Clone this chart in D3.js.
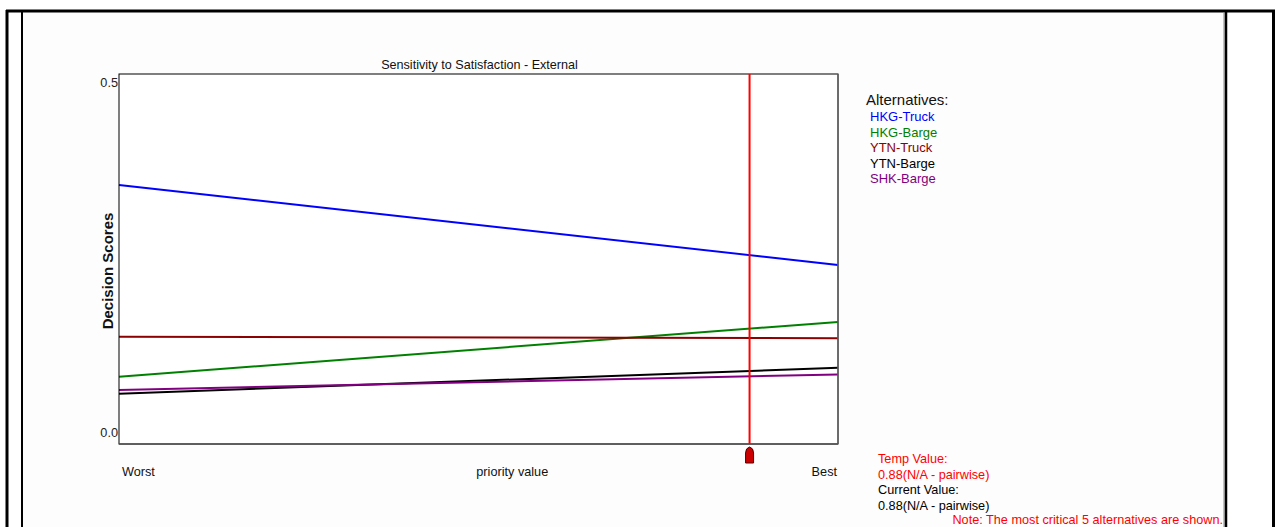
<!DOCTYPE html>
<html><head><meta charset="utf-8">
<script src="https://cdn.jsdelivr.net/npm/d3@7"></script>
<style>
body{margin:0;background:#fff;}
svg{display:block;font-family:"Liberation Sans",Arial,sans-serif;}
</style></head>
<body><svg id="c" width="1275" height="527"></svg>
<script>
const alternatives = ["HKG-Truck","HKG-Barge","YTN-Truck","YTN-Barge","SHK-Barge"];
const colors = ["#0000ff","#008000","#8b0000","#000000","#800080"];
const worstScores = [0.350, 0.091, 0.145, 0.068, 0.073];
const bestScores  = [0.242, 0.165, 0.143, 0.103, 0.094];
const xTickLabels = ["Worst","priority value","Best"];
const yTicks = [0.0, 0.5];
const currentPriority = 0.877;
const title = "Sensitivity to Satisfaction - External";
const yTitle = "Decision Scores";
const legendTitle = "Alternatives:";
const infoLines = ["Temp Value:","0.88(N/A - pairwise)","Current Value:","0.88(N/A - pairwise)"];
const infoColors = ["#ff0000","#ff0000","#000000","#000000"];
const note = "Note: The most critical 5 alternatives are shown.";

const FS = 12.7;
const svg = d3.select("#c");
// outer frames
svg.append("rect").attr("x",22).attr("y",11).attr("width",1203).attr("height",520).attr("fill","#fdfdfd");
svg.append("line").attr("x1",7).attr("x2",7).attr("y1",10).attr("y2",527).attr("stroke","#000").attr("stroke-width",3);
svg.append("line").attr("x1",6).attr("x2",1275).attr("y1",11).attr("y2",11).attr("stroke","#000").attr("stroke-width",3);
svg.append("line").attr("x1",22).attr("x2",22).attr("y1",11).attr("y2",527).attr("stroke","#000").attr("stroke-width",2);
svg.append("line").attr("x1",1224).attr("x2",1224).attr("y1",12).attr("y2",527).attr("stroke","#888").attr("stroke-width",1);
svg.append("line").attr("x1",1226).attr("x2",1226).attr("y1",11).attr("y2",527).attr("stroke","#000").attr("stroke-width",2.5);
svg.append("line").attr("x1",1273.5).attr("x2",1273.5).attr("y1",11).attr("y2",527).attr("stroke","#000").attr("stroke-width",3);

const L=119, R=838, T=74, B=444;
const x = d3.scaleLinear().domain([0,1]).range([L,R]);
const y = d3.scaleLinear().domain([0,0.5]).range([B,T]);

svg.append("rect").attr("x",L).attr("y",T).attr("width",R-L).attr("height",B-T).attr("fill","#fff");

const series = alternatives.map((a,i)=>({name:a,color:colors[i],pts:[[0,worstScores[i]],[1,bestScores[i]]]}));
const line = d3.line().x(d=>x(d[0])).y(d=>y(d[1]));
svg.selectAll("path.s").data(series).join("path").attr("class","s")
  .attr("d",d=>line(d.pts)).attr("fill","none").attr("stroke",d=>d.color).attr("stroke-width",2);

// frame
svg.append("rect").attr("x",L).attr("y",T).attr("width",R-L).attr("height",B-T)
  .attr("fill","none").attr("stroke","#000").attr("stroke-width",1);
svg.append("line").attr("x1",R).attr("x2",R).attr("y1",T).attr("y2",B).attr("stroke","#666").attr("stroke-width",1.5);
svg.append("line").attr("x1",L).attr("x2",R).attr("y1",B).attr("y2",B).attr("stroke","#555").attr("stroke-width",1.5);

// y tick labels
svg.selectAll("text.yt").data(yTicks).join("text").attr("class","yt")
  .attr("x",L-1).attr("y",d=>d===0? y(d)-7 : y(d)+13)
  .attr("text-anchor","end").attr("font-size",FS).attr("fill","#222")
  .text(d=>d3.format(".1f")(d));

// x labels
svg.selectAll("text.xt").data(xTickLabels).join("text").attr("class","xt")
  .attr("x",(d,i)=>i===0? x(0)+3 : (i===2? x(1)-1 : x(0.547)))
  .attr("y",476).attr("font-size",FS).attr("fill","#111")
  .attr("text-anchor",(d,i)=>i===0?"start":(i===2?"end":"middle"))
  .text(d=>d);

// title
svg.append("text").attr("x",(L+R)/2+1).attr("y",69).attr("text-anchor","middle")
  .attr("font-size",12.6).attr("fill","#111").text(title);
// y title
svg.append("text").attr("transform",`translate(113,${(T+B)/2+12}) rotate(-90)`)
  .attr("text-anchor","middle").attr("font-size",15).attr("font-weight","bold").attr("fill","#111").text(yTitle);

// current priority line
const cx = x(currentPriority);
svg.append("line").attr("x1",cx).attr("x2",cx).attr("y1",T).attr("y2",B)
  .attr("stroke","#ff0000").attr("stroke-width",2);
// marker
svg.append("path").attr("d",`M${cx-4},463 L${cx-4},453 Q${cx-4},448 ${cx},447 Q${cx+4},448 ${cx+4},453 L${cx+4},463 Z`)
  .attr("fill","#cc0000").attr("stroke","#550000").attr("stroke-width",1);

// legend
svg.append("text").attr("x",866).attr("y",105).attr("font-size",15).attr("fill","#111").text(legendTitle);
svg.selectAll("text.lg").data(series).join("text").attr("class","lg")
  .attr("x",870).attr("y",(d,i)=>121+i*15.5).attr("font-size",13).attr("fill",d=>d.color).text(d=>d.name);

// info
svg.selectAll("text.info").data(infoLines).join("text").attr("class","info")
  .attr("x",878).attr("y",(d,i)=>463+i*15.5).attr("font-size",FS).attr("fill",(d,i)=>infoColors[i]).text(d=>d);
svg.append("text").attr("x",1223).attr("y",524).attr("text-anchor","end").attr("font-size",FS).attr("fill","#ff0000").text(note);
</script></body></html>
